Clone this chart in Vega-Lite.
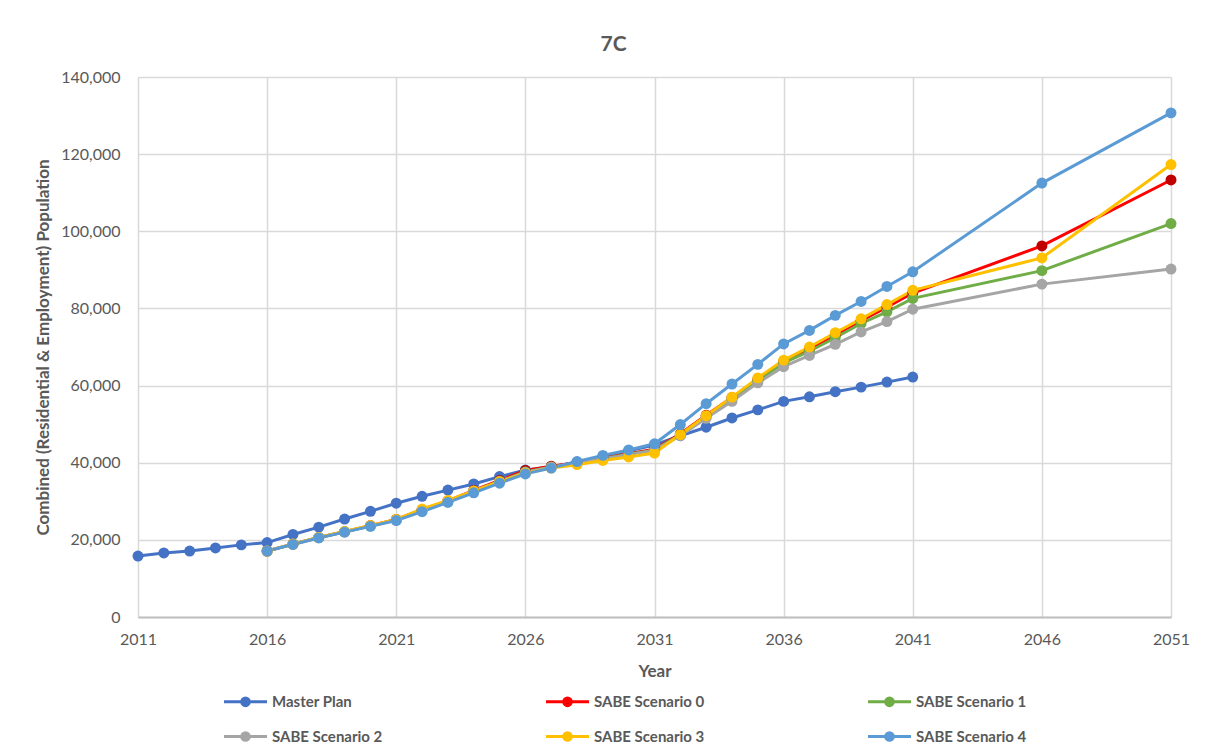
{
  "$schema": "https://vega.github.io/schema/vega-lite/v6.json",
  "autosize": {"type": "none"},
  "width": 1033,
  "height": 540,
  "padding": {"left": 138, "top": 77, "right": 44, "bottom": 132},
  "background": "white",
  "title": {
    "text": "7C",
    "fontSize": 21,
    "fontWeight": "bold",
    "color": "#595959",
    "font": "Lato",
    "anchor": "middle",
    "dx": -41,
    "offset": 14
  },
  "config": {
    "view": {"stroke": null},
    "font": "Lato",
    "axis": {
      "labelFont": "Lato",
      "labelFontSize": 16,
      "labelColor": "#595959",
      "titleFont": "Lato",
      "titleFontSize": 17,
      "titleFontWeight": "bold",
      "titleColor": "#595959",
      "gridColor": "#D9D9D9",
      "gridWidth": 1.5,
      "ticks": false,
      "domain": false
    }
  },
  "data": {
    "values": [
      {"year": 2011, "series": "Master Plan", "value": 15800},
      {"year": 2012, "series": "Master Plan", "value": 16600},
      {"year": 2013, "series": "Master Plan", "value": 17100},
      {"year": 2014, "series": "Master Plan", "value": 17900},
      {"year": 2015, "series": "Master Plan", "value": 18700},
      {"year": 2016, "series": "Master Plan", "value": 19300},
      {"year": 2017, "series": "Master Plan", "value": 21400},
      {"year": 2018, "series": "Master Plan", "value": 23300},
      {"year": 2019, "series": "Master Plan", "value": 25400},
      {"year": 2020, "series": "Master Plan", "value": 27400},
      {"year": 2021, "series": "Master Plan", "value": 29500},
      {"year": 2022, "series": "Master Plan", "value": 31300},
      {"year": 2023, "series": "Master Plan", "value": 32900},
      {"year": 2024, "series": "Master Plan", "value": 34500},
      {"year": 2025, "series": "Master Plan", "value": 36400},
      {"year": 2026, "series": "Master Plan", "value": 38100},
      {"year": 2027, "series": "Master Plan", "value": 38900},
      {"year": 2028, "series": "Master Plan", "value": 40200},
      {"year": 2029, "series": "Master Plan", "value": 41600},
      {"year": 2030, "series": "Master Plan", "value": 43100},
      {"year": 2031, "series": "Master Plan", "value": 44600},
      {"year": 2032, "series": "Master Plan", "value": 47000},
      {"year": 2033, "series": "Master Plan", "value": 49200},
      {"year": 2034, "series": "Master Plan", "value": 51600},
      {"year": 2035, "series": "Master Plan", "value": 53700},
      {"year": 2036, "series": "Master Plan", "value": 55900},
      {"year": 2037, "series": "Master Plan", "value": 57100},
      {"year": 2038, "series": "Master Plan", "value": 58400},
      {"year": 2039, "series": "Master Plan", "value": 59600},
      {"year": 2040, "series": "Master Plan", "value": 60900},
      {"year": 2041, "series": "Master Plan", "value": 62200},

      {"year": 2016, "series": "SABE Scenario 0", "value": 17100},
      {"year": 2017, "series": "SABE Scenario 0", "value": 18900},
      {"year": 2018, "series": "SABE Scenario 0", "value": 20600},
      {"year": 2019, "series": "SABE Scenario 0", "value": 22100},
      {"year": 2020, "series": "SABE Scenario 0", "value": 23700},
      {"year": 2021, "series": "SABE Scenario 0", "value": 25300},
      {"year": 2022, "series": "SABE Scenario 0", "value": 27800},
      {"year": 2023, "series": "SABE Scenario 0", "value": 30100},
      {"year": 2024, "series": "SABE Scenario 0", "value": 32800},
      {"year": 2025, "series": "SABE Scenario 0", "value": 35400},
      {"year": 2026, "series": "SABE Scenario 0", "value": 38000},
      {"year": 2027, "series": "SABE Scenario 0", "value": 39100},
      {"year": 2028, "series": "SABE Scenario 0", "value": 40000},
      {"year": 2029, "series": "SABE Scenario 0", "value": 41200},
      {"year": 2030, "series": "SABE Scenario 0", "value": 42300},
      {"year": 2031, "series": "SABE Scenario 0", "value": 43500},
      {"year": 2032, "series": "SABE Scenario 0", "value": 47500},
      {"year": 2033, "series": "SABE Scenario 0", "value": 52300},
      {"year": 2034, "series": "SABE Scenario 0", "value": 56900},
      {"year": 2035, "series": "SABE Scenario 0", "value": 61500},
      {"year": 2036, "series": "SABE Scenario 0", "value": 66200},
      {"year": 2037, "series": "SABE Scenario 0", "value": 69500},
      {"year": 2038, "series": "SABE Scenario 0", "value": 73100},
      {"year": 2039, "series": "SABE Scenario 0", "value": 76800},
      {"year": 2040, "series": "SABE Scenario 0", "value": 80300},
      {"year": 2041, "series": "SABE Scenario 0", "value": 84000},
      {"year": 2046, "series": "SABE Scenario 0", "value": 96200},
      {"year": 2051, "series": "SABE Scenario 0", "value": 113300},

      {"year": 2016, "series": "SABE Scenario 1", "value": 17100},
      {"year": 2017, "series": "SABE Scenario 1", "value": 18900},
      {"year": 2018, "series": "SABE Scenario 1", "value": 20600},
      {"year": 2019, "series": "SABE Scenario 1", "value": 22100},
      {"year": 2020, "series": "SABE Scenario 1", "value": 23600},
      {"year": 2021, "series": "SABE Scenario 1", "value": 25200},
      {"year": 2022, "series": "SABE Scenario 1", "value": 27700},
      {"year": 2023, "series": "SABE Scenario 1", "value": 30000},
      {"year": 2024, "series": "SABE Scenario 1", "value": 32600},
      {"year": 2025, "series": "SABE Scenario 1", "value": 35200},
      {"year": 2026, "series": "SABE Scenario 1", "value": 37600},
      {"year": 2027, "series": "SABE Scenario 1", "value": 38900},
      {"year": 2028, "series": "SABE Scenario 1", "value": 39900},
      {"year": 2029, "series": "SABE Scenario 1", "value": 41100},
      {"year": 2030, "series": "SABE Scenario 1", "value": 42200},
      {"year": 2031, "series": "SABE Scenario 1", "value": 43300},
      {"year": 2032, "series": "SABE Scenario 1", "value": 47300},
      {"year": 2033, "series": "SABE Scenario 1", "value": 52000},
      {"year": 2034, "series": "SABE Scenario 1", "value": 56500},
      {"year": 2035, "series": "SABE Scenario 1", "value": 61100},
      {"year": 2036, "series": "SABE Scenario 1", "value": 65900},
      {"year": 2037, "series": "SABE Scenario 1", "value": 68900},
      {"year": 2038, "series": "SABE Scenario 1", "value": 72400},
      {"year": 2039, "series": "SABE Scenario 1", "value": 76100},
      {"year": 2040, "series": "SABE Scenario 1", "value": 79100},
      {"year": 2041, "series": "SABE Scenario 1", "value": 82600},
      {"year": 2046, "series": "SABE Scenario 1", "value": 89800},
      {"year": 2051, "series": "SABE Scenario 1", "value": 102000},

      {"year": 2016, "series": "SABE Scenario 2", "value": 17100},
      {"year": 2017, "series": "SABE Scenario 2", "value": 18900},
      {"year": 2018, "series": "SABE Scenario 2", "value": 20600},
      {"year": 2019, "series": "SABE Scenario 2", "value": 22100},
      {"year": 2020, "series": "SABE Scenario 2", "value": 23600},
      {"year": 2021, "series": "SABE Scenario 2", "value": 25200},
      {"year": 2022, "series": "SABE Scenario 2", "value": 27700},
      {"year": 2023, "series": "SABE Scenario 2", "value": 30000},
      {"year": 2024, "series": "SABE Scenario 2", "value": 32600},
      {"year": 2025, "series": "SABE Scenario 2", "value": 35100},
      {"year": 2026, "series": "SABE Scenario 2", "value": 37500},
      {"year": 2027, "series": "SABE Scenario 2", "value": 38800},
      {"year": 2028, "series": "SABE Scenario 2", "value": 39900},
      {"year": 2029, "series": "SABE Scenario 2", "value": 41000},
      {"year": 2030, "series": "SABE Scenario 2", "value": 42100},
      {"year": 2031, "series": "SABE Scenario 2", "value": 43200},
      {"year": 2032, "series": "SABE Scenario 2", "value": 47000},
      {"year": 2033, "series": "SABE Scenario 2", "value": 51500},
      {"year": 2034, "series": "SABE Scenario 2", "value": 55900},
      {"year": 2035, "series": "SABE Scenario 2", "value": 60700},
      {"year": 2036, "series": "SABE Scenario 2", "value": 64900},
      {"year": 2037, "series": "SABE Scenario 2", "value": 67800},
      {"year": 2038, "series": "SABE Scenario 2", "value": 70700},
      {"year": 2039, "series": "SABE Scenario 2", "value": 73900},
      {"year": 2040, "series": "SABE Scenario 2", "value": 76600},
      {"year": 2041, "series": "SABE Scenario 2", "value": 79800},
      {"year": 2046, "series": "SABE Scenario 2", "value": 86300},
      {"year": 2051, "series": "SABE Scenario 2", "value": 90200},

      {"year": 2016, "series": "SABE Scenario 3", "value": 17100},
      {"year": 2017, "series": "SABE Scenario 3", "value": 18900},
      {"year": 2018, "series": "SABE Scenario 3", "value": 20600},
      {"year": 2019, "series": "SABE Scenario 3", "value": 22200},
      {"year": 2020, "series": "SABE Scenario 3", "value": 23700},
      {"year": 2021, "series": "SABE Scenario 3", "value": 25300},
      {"year": 2022, "series": "SABE Scenario 3", "value": 28000},
      {"year": 2023, "series": "SABE Scenario 3", "value": 30200},
      {"year": 2024, "series": "SABE Scenario 3", "value": 32700},
      {"year": 2025, "series": "SABE Scenario 3", "value": 35100},
      {"year": 2026, "series": "SABE Scenario 3", "value": 37300},
      {"year": 2027, "series": "SABE Scenario 3", "value": 38600},
      {"year": 2028, "series": "SABE Scenario 3", "value": 39500},
      {"year": 2029, "series": "SABE Scenario 3", "value": 40600},
      {"year": 2030, "series": "SABE Scenario 3", "value": 41500},
      {"year": 2031, "series": "SABE Scenario 3", "value": 42500},
      {"year": 2032, "series": "SABE Scenario 3", "value": 47300},
      {"year": 2033, "series": "SABE Scenario 3", "value": 52200},
      {"year": 2034, "series": "SABE Scenario 3", "value": 57000},
      {"year": 2035, "series": "SABE Scenario 3", "value": 62000},
      {"year": 2036, "series": "SABE Scenario 3", "value": 66600},
      {"year": 2037, "series": "SABE Scenario 3", "value": 70000},
      {"year": 2038, "series": "SABE Scenario 3", "value": 73700},
      {"year": 2039, "series": "SABE Scenario 3", "value": 77300},
      {"year": 2040, "series": "SABE Scenario 3", "value": 81000},
      {"year": 2041, "series": "SABE Scenario 3", "value": 84700},
      {"year": 2046, "series": "SABE Scenario 3", "value": 93100},
      {"year": 2051, "series": "SABE Scenario 3", "value": 117300},

      {"year": 2016, "series": "SABE Scenario 4", "value": 17100},
      {"year": 2017, "series": "SABE Scenario 4", "value": 18800},
      {"year": 2018, "series": "SABE Scenario 4", "value": 20500},
      {"year": 2019, "series": "SABE Scenario 4", "value": 22000},
      {"year": 2020, "series": "SABE Scenario 4", "value": 23500},
      {"year": 2021, "series": "SABE Scenario 4", "value": 25000},
      {"year": 2022, "series": "SABE Scenario 4", "value": 27300},
      {"year": 2023, "series": "SABE Scenario 4", "value": 29700},
      {"year": 2024, "series": "SABE Scenario 4", "value": 32200},
      {"year": 2025, "series": "SABE Scenario 4", "value": 34700},
      {"year": 2026, "series": "SABE Scenario 4", "value": 37100},
      {"year": 2027, "series": "SABE Scenario 4", "value": 38600},
      {"year": 2028, "series": "SABE Scenario 4", "value": 40300},
      {"year": 2029, "series": "SABE Scenario 4", "value": 41900},
      {"year": 2030, "series": "SABE Scenario 4", "value": 43300},
      {"year": 2031, "series": "SABE Scenario 4", "value": 44900},
      {"year": 2032, "series": "SABE Scenario 4", "value": 49900},
      {"year": 2033, "series": "SABE Scenario 4", "value": 55300},
      {"year": 2034, "series": "SABE Scenario 4", "value": 60400},
      {"year": 2035, "series": "SABE Scenario 4", "value": 65500},
      {"year": 2036, "series": "SABE Scenario 4", "value": 70800},
      {"year": 2037, "series": "SABE Scenario 4", "value": 74300},
      {"year": 2038, "series": "SABE Scenario 4", "value": 78200},
      {"year": 2039, "series": "SABE Scenario 4", "value": 81800},
      {"year": 2040, "series": "SABE Scenario 4", "value": 85700},
      {"year": 2041, "series": "SABE Scenario 4", "value": 89500},
      {"year": 2046, "series": "SABE Scenario 4", "value": 112500},
      {"year": 2051, "series": "SABE Scenario 4", "value": 130700}
    ]
  },
  "encoding": {
    "x": {
      "field": "year",
      "type": "quantitative",
      "title": "Year",
      "scale": {"domain": [2011, 2051], "nice": false, "zero": false},
      "axis": {
        "values": [2011, 2016, 2021, 2026, 2031, 2036, 2041, 2046, 2051],
        "format": "d",
        "labelFlush": false,
        "labelPadding": 14,
        "titlePadding": 16,
        "domain": true,
        "domainColor": "#BFBFBF",
        "domainWidth": 2
      }
    },
    "y": {
      "field": "value",
      "type": "quantitative",
      "title": "Combined (Residential & Employment) Population",
      "scale": {"domain": [0, 140000], "nice": false},
      "axis": {
        "values": [0, 20000, 40000, 60000, 80000, 100000, 120000, 140000],
        "format": ",d",
        "labelFlush": false,
        "labelPadding": 18,
        "titlePadding": 8
      }
    }
  },
  "layer": [
    {
      "mark": {"type": "line", "strokeWidth": 3},
      "encoding": {
        "stroke": {
          "field": "series",
          "type": "nominal",
          "scale": {
            "domain": ["Master Plan", "SABE Scenario 0", "SABE Scenario 1", "SABE Scenario 2", "SABE Scenario 3", "SABE Scenario 4"],
            "range": ["#4472C4", "#FF0000", "#70AD47", "#A5A5A5", "#FFC000", "#5B9BD5"]
          },
          "legend": {
            "title": null,
            "orient": "none",
            "legendX": 96,
            "legendY": 613,
            "direction": "horizontal",
            "columns": 3,
            "columnPadding": 157,
            "rowPadding": 13,
            "symbolType": "M-2.15,0H2.15M-0.38,0A0.38,0.38 0 1,0 0.38,0A0.38,0.38 0 1,0 -0.38,0Z",
            "symbolSize": 400,
            "symbolStrokeWidth": 3,
            "labelFont": "Lato",
            "labelFontSize": 15,
            "labelFontWeight": "bold",
            "labelColor": "#595959",
            "labelOffset": 15,
            "labelLimit": 200
          }
        },
        "detail": {"field": "series"}
      }
    },
    {
      "mark": {"type": "point", "filled": true, "size": 120, "opacity": 1, "strokeWidth": 0},
      "encoding": {
        "fill": {
          "field": "series",
          "type": "nominal",
          "scale": {
            "domain": ["Master Plan", "SABE Scenario 0", "SABE Scenario 1", "SABE Scenario 2", "SABE Scenario 3", "SABE Scenario 4"],
            "range": ["#4472C4", "#C00000", "#70AD47", "#A5A5A5", "#FFC000", "#5B9BD5"]
          },
          "legend": {
            "title": null,
            "orient": "none",
            "legendX": 96,
            "legendY": 613,
            "direction": "horizontal",
            "columns": 3,
            "columnPadding": 157,
            "rowPadding": 13,
            "symbolType": "M-2.15,0H2.15M-0.38,0A0.38,0.38 0 1,0 0.38,0A0.38,0.38 0 1,0 -0.38,0Z",
            "symbolSize": 400,
            "symbolStrokeWidth": 3,
            "labelFont": "Lato",
            "labelFontSize": 15,
            "labelFontWeight": "bold",
            "labelColor": "#595959",
            "labelOffset": 15,
            "labelLimit": 200
          }
        }
      }
    }
  ]
}
